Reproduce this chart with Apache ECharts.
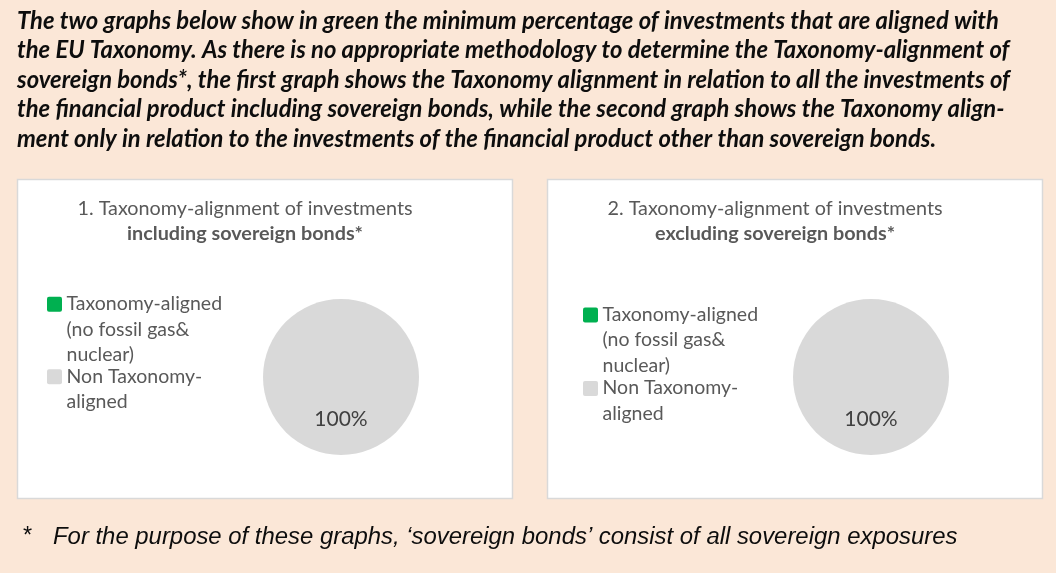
<!DOCTYPE html>
<html>
<head>
<meta charset="utf-8">
<title>Taxonomy-alignment of investments</title>
<script src="https://cdn.jsdelivr.net/npm/echarts@6/dist/echarts.min.js"></script>
<style>
  html, body { margin: 0; padding: 0; background: #FBE7D7; }
  #chart { width: 1056px; height: 573px; }
</style>
</head>
<body>
<div id="chart"></div>
<script>
// ---- chart content ----
const headerLines = [
  'The two graphs below show in green the minimum percentage of investments that are aligned with',
  'the EU Taxonomy. As there is no appropriate methodology to determine the Taxonomy-alignment of',
  'sovereign bonds*, the first graph shows the Taxonomy alignment in relation to all the investments of',
  'the financial product including sovereign bonds, while the second graph shows the Taxonomy align-',
  'ment only in relation to the investments of the financial product other than sovereign bonds.'
];
const panelTitles = ['1. Taxonomy-alignment of investments', '2. Taxonomy-alignment of investments'];
const panelSubtitles = ['including sovereign bonds*', 'excluding sovereign bonds*'];
const categories = ['Taxonomy-aligned (no fossil gas& nuclear)', 'Non Taxonomy-aligned'];
const categoryLines = [['Taxonomy-aligned', '(no fossil gas&', 'nuclear)'], ['Non Taxonomy-', 'aligned']];
const includingSovereign = [0, 100];
const excludingSovereign = [0, 100];
const footnoteMark = '*';
const footnoteText = 'For the purpose of these graphs, \u2018sovereign bonds\u2019 consist of all sovereign exposures';

// ---- styling ----
const SANS = 'Lato, "Open Sans", sans-serif';
const ARIAL = '"Liberation Sans", Arial, sans-serif';
const COLORS = ['#00B050', '#D9D9D9'];
const TEXT_GREY = '#595959';

// panel geometry
const panels = [
  { x: 17, y: 179, w: 496, h: 320, cx: 341, cy: 377, titleX: 245,
    legendX: 47, legendBase: [310.7, 383.3], values: includingSovereign },
  { x: 547, y: 179, w: 496, h: 320, cx: 871, cy: 377, titleX: 775,
    legendX: 583, legendBase: [321.5, 395], values: excludingSovereign }
];

const LEG_LH = 25.5;
const LEG_FS = 19.5;

const graphics = [];

// intro paragraph
graphics.push({
  type: 'text', x: 17, y: 6.5, z: 10,
  style: {
    text: headerLines.join('\n'),
    font: 'italic bold 23.8px ' + SANS,
    lineHeight: 29.5,
    fill: '#0D0D0D',
    align: 'left', verticalAlign: 'top'
  }
});

panels.forEach((p, i) => {
  // white card
  graphics.push({
    type: 'rect', z: 0,
    shape: { x: p.x + 0.5, y: p.y + 0.5, width: p.w - 1, height: p.h - 1 },
    style: { fill: '#FFFFFF', stroke: '#D9D9D9', lineWidth: 1.5 }
  });
  // card titles
  graphics.push({
    type: 'text', x: p.titleX, y: 208.6, z: 10,
    style: { text: panelTitles[i], font: '19.8px ' + SANS, fill: TEXT_GREY, align: 'center', verticalAlign: 'middle' }
  });
  graphics.push({
    type: 'text', x: p.titleX, y: 233.8, z: 10,
    style: { text: panelSubtitles[i], font: 'bold 19.8px ' + SANS, fill: TEXT_GREY, align: 'center', verticalAlign: 'middle' }
  });
  // legend entries
  categories.forEach((c, k) => {
    const base = p.legendBase[k];
    graphics.push({
      type: 'rect', z: 10,
      shape: { x: p.legendX, y: base - 14, width: 15, height: 15, r: 2 },
      style: { fill: COLORS[k] }
    });
    graphics.push({
      type: 'text', x: p.legendX + 19.5, y: base - 19.6, z: 10,
      style: {
        text: categoryLines[k].join('\n'),
        font: LEG_FS + 'px ' + SANS, lineHeight: LEG_LH,
        fill: TEXT_GREY, align: 'left', verticalAlign: 'top'
      }
    });
  });
});

// footnote
graphics.push({
  type: 'text', x: 23, y: 537, z: 10,
  style: { text: footnoteMark, font: '23.5px ' + ARIAL, fill: '#0D0D0D', align: 'left', verticalAlign: 'middle' }
});
graphics.push({
  type: 'text', x: 53, y: 537, z: 10,
  style: { text: footnoteText, font: 'italic 23.9px ' + ARIAL, fill: '#0D0D0D', align: 'left', verticalAlign: 'middle' }
});

const series = panels.map((p) => ({
  type: 'pie',
  center: [p.cx, p.cy],
  radius: 78,
  startAngle: 90,
  clockwise: true,
  silent: true,
  z: 5,
  itemStyle: { borderWidth: 0 },
  label: {
    show: true,
    position: 'inside',
    fontFamily: SANS,
    fontSize: 21,
    color: '#404040',
    formatter: (d) => (d.value > 0 ? d.value + '%' : '')
  },
  labelLine: { show: false },
  emphasis: { disabled: true },
  data: categories.map((name, k) => ({ name, value: p.values[k], itemStyle: { color: COLORS[k] } }))
}));

const chart = echarts.init(document.getElementById('chart'), null, { renderer: 'canvas' });
chart.setOption({
  backgroundColor: '#FBE7D7',
  animation: false,
  graphic: { elements: graphics },
  series
});
</script>
</body>
</html>
